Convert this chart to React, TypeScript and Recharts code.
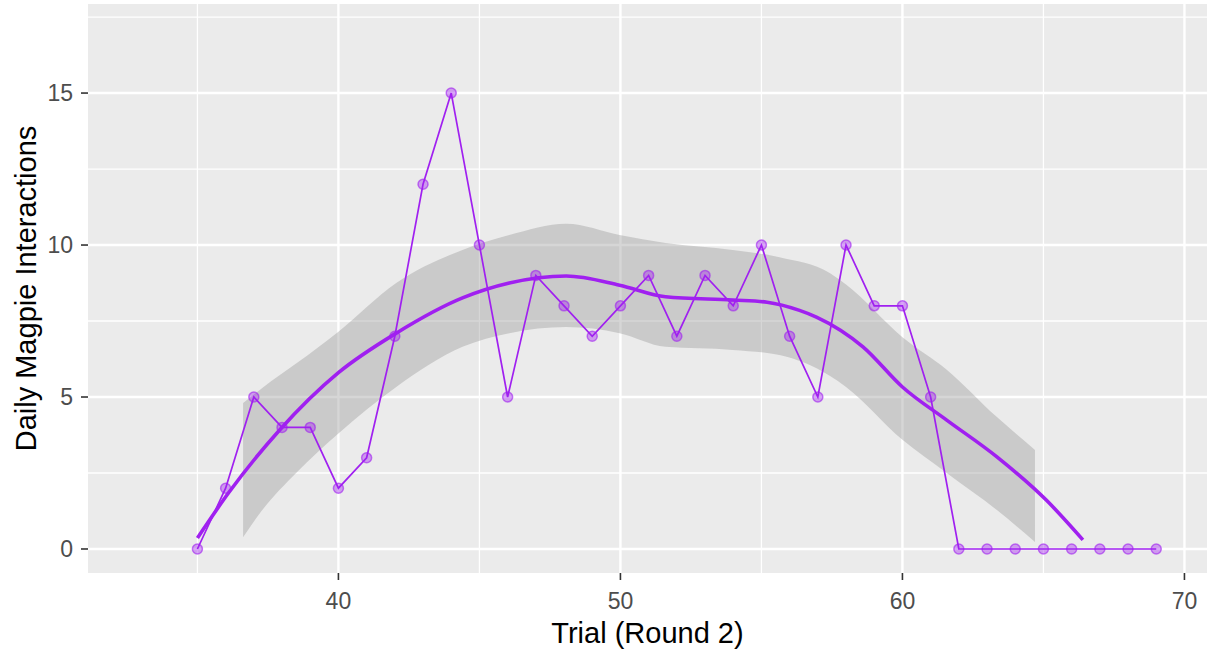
import React from "react";
import {
  ComposedChart,
  Line,
  Area,
  XAxis,
  YAxis,
  CartesianGrid,
  Label,
} from "recharts";

// Daily counts per trial day
const trial = [
  35, 36, 37, 38, 39, 40, 41, 42, 43, 44, 45, 46, 47, 48, 49, 50, 51, 52, 53,
  54, 55, 56, 57, 58, 59, 60, 61, 62, 63, 64, 65, 66, 67, 68, 69,
];
const interactions = [
  0, 2, 5, 4, 4, 2, 3, 7, 12, 15, 10, 5, 9, 8, 7, 8, 9, 7, 9, 8, 10, 7, 5, 10,
  8, 8, 5, 0, 0, 0, 0, 0, 0, 0, 0,
];

// Smoothed trend line
const smoothX = [
  35, 36.1, 37.9, 40, 42.05, 44.4, 46.06, 48.08, 49.97, 51.6, 53.98, 55.2,
  56.35, 56.95, 58.6, 60, 61.57, 63.35, 65.1, 66.4,
];
const smoothY = [
  0.36, 1.84, 3.9, 5.8, 7.1, 8.26, 8.75, 8.98, 8.68, 8.3, 8.19, 8.12, 7.85,
  7.63, 6.65, 5.33, 4.24, 3.03, 1.61, 0.3,
];

// Confidence band around the trend
const bandX = [
  36.62, 37.3, 38.5, 40, 42.05, 44.4, 46.06, 48.08, 49.97, 51.6, 53.98, 55.64,
  57.42, 58, 60, 61.57, 63.35, 64.7,
];
const bandLo = [
  0.39, 1.28, 2.5, 3.8, 5.33, 6.65, 7.1, 7.3, 7.1, 6.65, 6.55, 6.38, 5.7, 5.33,
  3.59, 2.5, 1.28, 0.23,
];
const bandHi = [
  4.8, 5.3, 6.1, 7.15, 8.75, 9.84, 10.33, 10.7, 10.33, 10.07, 9.84, 9.6, 9.08,
  8.7, 6.97, 5.9, 4.34, 3.26,
];

const xMajor = [40, 50, 60, 70];
const xMinor = [35, 45, 55, 65];
const yMajor = [0, 5, 10, 15];
const yMinor = [2.5, 7.5, 12.5, 17.5];

const points = trial.map((x, i) => ({ x, y: interactions[i] }));
const smooth = smoothX.map((x, i) => ({ x, y: smoothY[i] }));
const band = bandX.map((x, i) => ({ x, band: [bandLo[i], bandHi[i]] }));

const PURPLE = "#A020F0";
const FONT = "'Liberation Sans', Arial, sans-serif";

export default function App() {
  return (
    <div style={{ position: "absolute", left: 0, top: 0, background: "#fff" }}>
      <ComposedChart
        width={1207}
        height={655}
        margin={{ top: 4, right: 0, bottom: 0, left: 0 }}
      >
        <CartesianGrid
          fill="#EBEBEB"
          stroke="#FFFFFF"
          strokeWidth={1.3}
          horizontalValues={yMinor}
          verticalValues={xMinor}
        />
        <CartesianGrid
          stroke="#FFFFFF"
          strokeWidth={2.4}
          horizontalValues={yMajor}
          verticalValues={xMajor}
        />
        <XAxis
          type="number"
          dataKey="x"
          domain={[31.12, 70.8]}
          allowDataOverflow
          ticks={xMajor}
          height={82}
          axisLine={false}
          tickSize={7}
          tickMargin={13}
          tickLine={{ stroke: "#333333", strokeWidth: 1.6 }}
          tick={{ fill: "#4D4D4D", fontSize: 23, fontFamily: FONT }}
        >
          <Label
            content={(p: any) => {
              const vb = p.viewBox || {};
              const cx = vb.x + vb.width / 2;
              return (
                <text
                  x={cx}
                  y={643}
                  textAnchor="middle"
                  fill="#000000"
                  fontSize={29}
                  fontFamily={FONT}
                >
                  Trial (Round 2)
                </text>
              );
            }}
          />
        </XAxis>
        <YAxis
          type="number"
          domain={[-0.79, 17.93]}
          allowDataOverflow
          ticks={yMajor}
          width={88}
          axisLine={false}
          tickSize={7}
          tickMargin={8}
          tickLine={{ stroke: "#333333", strokeWidth: 1.6 }}
          tick={{ fill: "#4D4D4D", fontSize: 23, fontFamily: FONT }}
        >
          <Label
            content={(p: any) => {
              const vb = p.viewBox || {};
              const cy = vb.y + vb.height / 2;
              return (
                <text
                  x={26}
                  y={cy}
                  transform={`rotate(-90 26 ${cy})`}
                  textAnchor="middle"
                  dominantBaseline="central"
                  fill="#000000"
                  fontSize={29}
                  fontFamily={FONT}
                >
                  Daily Magpie Interactions
                </text>
              );
            }}
          />
        </YAxis>
        <Area
          data={band}
          dataKey="band"
          type="monotone"
          fill="#999999"
          fillOpacity={0.4}
          stroke="none"
          isAnimationActive={false}
        />
        <Line
          data={points}
          dataKey="y"
          type="linear"
          stroke={PURPLE}
          strokeWidth={1.7}
          dot={{
            r: 5,
            fill: PURPLE,
            fillOpacity: 0.4,
            stroke: PURPLE,
            strokeOpacity: 0.6,
            strokeWidth: 1.5,
          }}
          isAnimationActive={false}
        />
        <Line
          data={smooth}
          dataKey="y"
          type="monotone"
          stroke={PURPLE}
          strokeWidth={3.6}
          dot={false}
          isAnimationActive={false}
        />
      </ComposedChart>
    </div>
  );
}
